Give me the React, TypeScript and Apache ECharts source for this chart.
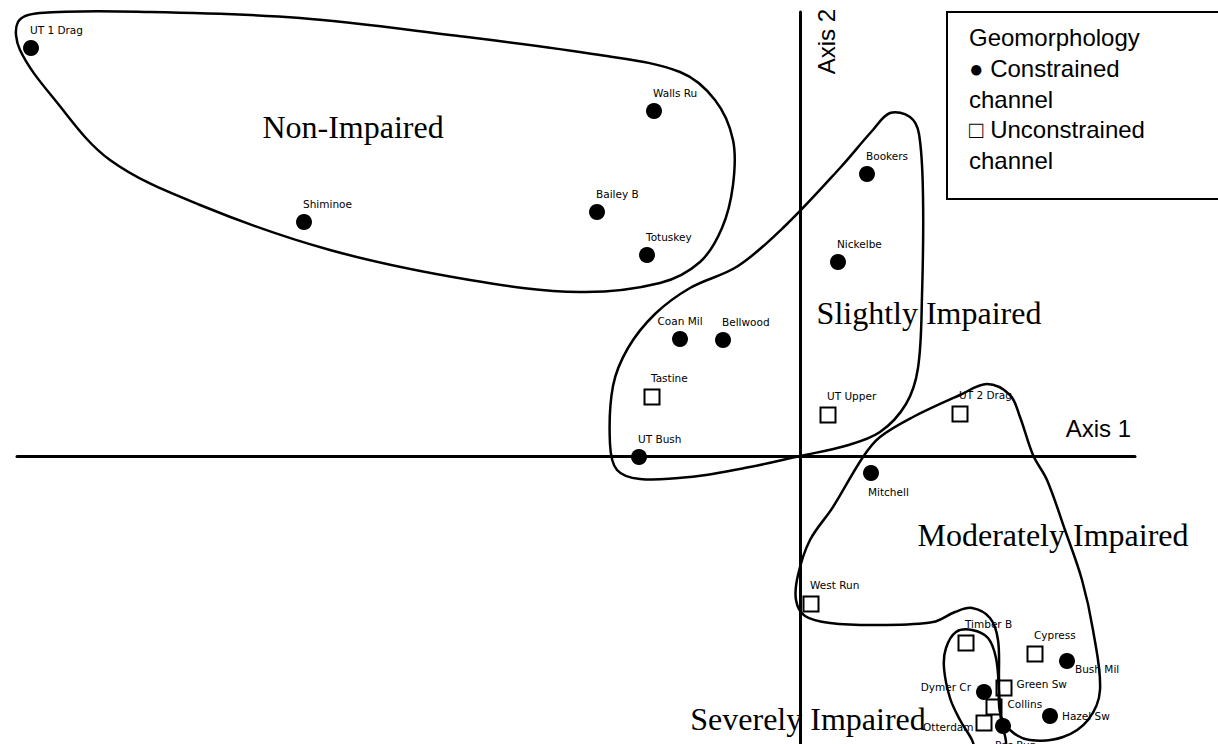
import React, { useEffect, useRef } from "react";
import * as echarts from "echarts";

// Ordination scores (Axis 1, Axis 2)
const constrainedNames = [
  "UT 1 Drag", "Walls Ru", "Shiminoe", "Bailey B", "Totuskey", "Bookers", "Nickelbe",
  "Coan Mil", "Bellwood", "UT Bush", "Mitchell", "Bush Mil", "Dymer Cr", "Hazel Sw", "Pos Run",
];
const constrainedScores: [number, number][] = [
  [-7.69, 4.08], [-1.46, 3.45], [-4.96, 2.34], [-2.03, 2.44], [-1.53, 2.01], [0.67, 2.82], [0.38, 1.94],
  [-1.2, 1.17], [-0.77, 1.16], [-1.61, -0.01], [0.71, -0.17], [2.67, -2.05], [1.84, -2.36], [2.5, -2.6], [2.03, -2.7],
];

const unconstrainedNames = [
  "Tastine", "UT Upper", "UT 2 Drag", "West Run", "Timber B", "Cypress", "Green Sw", "Collins", "Otterdam",
];
const unconstrainedScores: [number, number][] = [
  [-1.48, 0.59], [0.28, 0.41], [1.6, 0.42], [0.11, -1.48], [1.66, -1.87], [2.35, -1.98], [2.04, -2.32], [1.94, -2.51], [1.84, -2.67],
];

// Impairment group outlines (in ordination units)
const nonImpairedHull: [number, number][] = [
  [-7.82, 4.34], [-7.6, 4.43], [-6.5, 4.44], [-5.0, 4.38], [-3.5, 4.21], [-2.0, 4.01], [-1.2, 3.84],
  [-0.85, 3.56], [-0.67, 3.16], [-0.67, 2.71], [-0.78, 2.28], [-1.0, 1.94], [-1.4, 1.73], [-2.2, 1.64],
  [-3.3, 1.76], [-4.7, 2.06], [-6.0, 2.51], [-6.9, 2.96], [-7.45, 3.56], [-7.8, 4.06],
];
const slightlyHull: [number, number][] = [
  [0.9, 3.43], [1.1, 3.39], [1.19, 3.22], [1.23, 2.6], [1.22, 1.6], [1.18, 0.88], [1.06, 0.52], [0.8, 0.24],
  [0.45, 0.1], [0.0, 0.0], [-0.5, -0.11], [-1.1, -0.21], [-1.6, -0.23], [-1.83, -0.14], [-1.9, 0.12],
  [-1.87, 0.7], [-1.72, 1.08], [-1.45, 1.42], [-1.1, 1.68], [-0.62, 1.9], [-0.15, 2.3], [0.4, 2.88], [0.72, 3.25],
];
const moderatelyHull: [number, number][] = [
  [1.87, 0.72], [2.1, 0.61], [2.2, 0.39], [2.33, 0.01], [2.47, -0.24], [2.65, -0.74], [2.82, -1.24],
  [2.93, -1.74], [3.0, -2.34], [2.88, -2.64], [2.63, -2.81], [2.3, -2.84], [2.1, -2.74], [2.0, -2.56],
  [1.99, -2.24], [1.98, -1.84], [1.9, -1.62], [1.72, -1.52], [1.55, -1.56], [1.33, -1.66], [0.8, -1.69],
  [0.3, -1.67], [0.05, -1.6], [-0.04, -1.44], [-0.02, -1.19], [0.1, -0.84], [0.33, -0.51], [0.63, -0.01],
  [0.8, 0.19], [1.13, 0.39], [1.6, 0.61],
];
const severelyHull: [number, number][] = [
  [1.56, -1.76], [1.72, -1.74], [1.88, -1.82], [1.96, -2.02], [1.99, -2.34], [2.01, -2.64], [2.06, -2.9],
  [1.95, -3.1], [1.78, -3.0], [1.72, -2.84], [1.6, -2.64], [1.5, -2.42], [1.44, -2.12], [1.46, -1.92],
];
const hulls = [nonImpairedHull, slightlyHull, moderatelyHull, severelyHull];

const groupNames = ["Non-Impaired", "Slightly Impaired", "Moderately Impaired", "Severely Impaired"];
const groupLabelScores: [number, number][] = [[-4.47, 3.29], [1.29, 1.43], [2.53, -0.79], [0.08, -2.63]];

const axis1Range = [-7.83, 3.35];
const axis2Range = [-2.88, 4.44];

const legendLines = ["Geomorphology", "● Constrained", "channel", "□ Unconstrained", "channel"];

const labelPlacement: Record<string, any> = {
  "Coan Mil": { position: "top", align: "center" },
  Mitchell: { position: "bottom", align: "left", offset: [-3, 0] },
  "Bush Mil": { position: "right", distance: 0, offset: [0, 8] },
  "Dymer Cr": { position: "left", distance: 5, offset: [0, -5] },
  "Green Sw": { position: "right", distance: 4, offset: [0, -4] },
  Collins: { position: "right", distance: 5, offset: [0, -3] },
  "Hazel Sw": { position: "right", distance: 4 },
  Otterdam: { position: "left", distance: 2, offset: [0, 4] },
  "Pos Run": { position: "bottom", align: "left", offset: [-8, 0] },
};
const defaultPlacement = { position: "top", align: "left", offset: [-1, 0] };

const pointFont = { fontFamily: "DejaVu Sans", fontSize: 10.5, color: "#000" };

function pointData(names: string[], scores: [number, number][]) {
  return names.map((n, i) => ({
    name: n,
    value: scores[i],
    label: { show: true, formatter: "{b}", ...pointFont, ...(labelPlacement[n] || defaultPlacement) },
  }));
}

export default function App() {
  const ref = useRef<HTMLDivElement>(null);
  useEffect(() => {
    if (!ref.current) return;
    const chart = echarts.init(ref.current, undefined, { renderer: "svg" });
    const option: any = {
      animation: false,
      backgroundColor: "#fff",
      grid: { left: 17, right: 83, top: 12, bottom: 0, containLabel: false, outerBoundsMode: "none" },
      xAxis: {
        type: "value",
        min: axis1Range[0],
        max: axis1Range[1],
        axisLine: { show: true, onZero: true, lineStyle: { color: "#000", width: 3 } },
        axisTick: { show: false },
        axisLabel: { show: false },
        splitLine: { show: false },
        name: "Axis 1",
        nameLocation: "end",
        nameGap: -4,
        nameTextStyle: {
          fontFamily: "Liberation Sans", fontSize: 24, color: "#000",
          align: "right", verticalAlign: "bottom", padding: [0, 0, 16, 0],
        },
      },
      yAxis: {
        type: "value",
        min: axis2Range[0],
        max: axis2Range[1],
        axisLine: { show: true, onZero: true, lineStyle: { color: "#000", width: 3 } },
        axisTick: { show: false },
        axisLabel: { show: false },
        splitLine: { show: false },
        name: "Axis 2",
        nameLocation: "end",
        nameRotate: 90,
        nameGap: 3,
        nameTextStyle: {
          fontFamily: "Liberation Sans", fontSize: 24, color: "#000",
          align: "right", verticalAlign: "top", padding: [14, 0, 0, 0],
        },
      },
      series: [
        {
          type: "custom",
          name: "groups",
          coordinateSystem: "cartesian2d",
          z: 1,
          silent: true,
          data: hulls.map((h, i) => [h[0][0], h[0][1], i]),
          renderItem: (params: any, api: any) => {
            const pts = hulls[params.dataIndex].map((p) => api.coord(p));
            return {
              type: "polygon",
              shape: { points: pts, smooth: 0.35 },
              style: { fill: "none", stroke: "#000", lineWidth: 2.5 },
            };
          },
        },
        {
          type: "custom",
          name: "groupLabels",
          coordinateSystem: "cartesian2d",
          z: 3,
          silent: true,
          data: groupLabelScores.map((p, i) => [p[0], p[1], i]),
          renderItem: (params: any, api: any) => {
            const c = api.coord(groupLabelScores[params.dataIndex]);
            return {
              type: "text",
              x: c[0],
              y: c[1],
              style: {
                text: groupNames[params.dataIndex],
                font: '32px "Liberation Serif"',
                fill: "#000",
                align: "center",
                verticalAlign: "middle",
              },
            };
          },
        },
        {
          type: "scatter",
          name: "Constrained channel",
          z: 4,
          symbol: "circle",
          symbolSize: 16,
          itemStyle: { color: "#000", opacity: 1 },
          data: pointData(constrainedNames, constrainedScores),
        },
        {
          type: "scatter",
          name: "Unconstrained channel",
          z: 4,
          symbol: "rect",
          symbolSize: 15,
          itemStyle: { color: "rgba(0,0,0,0)", borderColor: "#000", borderWidth: 2, opacity: 1 },
          data: pointData(unconstrainedNames, unconstrainedScores),
        },
      ],
      graphic: [
        {
          type: "rect",
          z: 10,
          shape: { x: 947, y: 12, width: 300, height: 187 },
          style: { fill: "#fff", stroke: "#000", lineWidth: 2 },
        },
        {
          type: "text",
          z: 11,
          x: 969,
          y: 22,
          style: {
            text: legendLines.join("\n"),
            font: '24px "Liberation Sans"',
            lineHeight: 30.8,
            fill: "#000",
          },
        },
      ],
    };
    chart.setOption(option);
    return () => chart.dispose();
  }, []);
  return (
    <div
      ref={ref}
      style={{ position: "absolute", left: 0, top: 0, width: 1218, height: 744, background: "#fff" }}
    />
  );
}
